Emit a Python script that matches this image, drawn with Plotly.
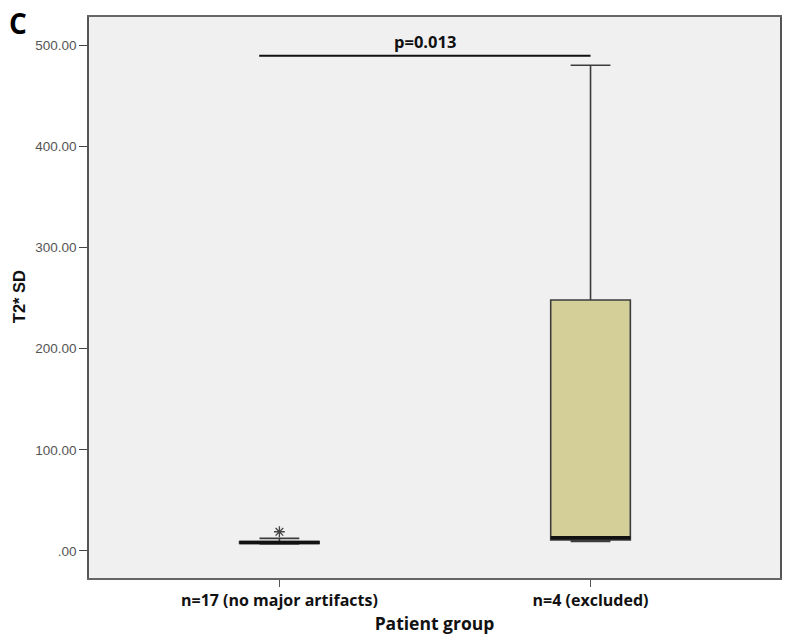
import plotly.graph_objects as go

# ---- data ----
groups = ["n=17 (no major artifacts)", "n=4 (excluded)"]
group_pos = [0, 1]
lower_fence = [7.0, 9.5]
q1 = [7.5, 11.0]
median = [8.5, 13.0]
q3 = [9.2, 248.0]
upper_fence = [12.5, 480.0]
outlier_group = [0]
outlier_value = [19.0]
y_ticks = [0, 100, 200, 300, 400, 500]
y_tick_labels = [".00", "100.00", "200.00", "300.00", "400.00", "500.00"]
p_text = "p=0.013"
p_line_y = 489.5
p_line_x = [-0.065, 1.0]

box_fill = "#D4CF98"
edge = "#3c3c3c"
box_w = 0.256

fig = go.Figure()

fills = ["#F0F0F0", box_fill]
for i in range(2):
    fig.add_trace(go.Box(
        x=[group_pos[i]], q1=[q1[i]], median=[median[i]], q3=[q3[i]],
        lowerfence=[lower_fence[i]], upperfence=[upper_fence[i]],
        width=box_w, whiskerwidth=0.5,
        fillcolor=fills[i], line=dict(color=edge, width=1.6),
        boxpoints=False, showlegend=False, hoverinfo="skip",
    ))

for i in range(2):
    fig.add_trace(go.Scatter(
        x=[group_pos[i] - box_w / 2, group_pos[i] + box_w / 2],
        y=[median[i], median[i]], mode="lines",
        line=dict(color="#111111", width=3.5), showlegend=False, hoverinfo="skip",
    ))

fig.add_trace(go.Scatter(
    x=outlier_group, y=outlier_value, mode="markers",
    marker=dict(symbol="asterisk-open", size=9, color="#444444", line=dict(width=1.3, color="#444444")),
    showlegend=False, hoverinfo="skip",
))

fig.add_trace(go.Scatter(
    x=p_line_x, y=[p_line_y, p_line_y], mode="lines",
    line=dict(color="#111111", width=2), showlegend=False, hoverinfo="skip",
))

fig.add_annotation(
    x=sum(p_line_x) / 2, y=p_line_y, xref="x", yref="y",
    text="<b>" + p_text + "</b>", showarrow=False, yanchor="bottom", yshift=1,
    font=dict(family="Open Sans", size=16.5, color="#111111"),
)

fig.add_annotation(
    x=(18 - 89) / 693, y=(578 - 23) / 561, xref="paper", yref="paper",
    xanchor="center", yanchor="middle",
    text="<b>C</b>", showarrow=False,
    font=dict(family="Open Sans", size=28, color="#000000"),
)

fig.add_annotation(
    x=(19 - 89) / 693, y=(578 - 297) / 561, xref="paper", yref="paper",
    xanchor="center", yanchor="middle",
    text="<b>T2* SD</b>", textangle=-90, showarrow=False,
    font=dict(family="Liberation Sans", size=16.5, color="#111111"),
)

fig.update_layout(
    width=787, height=640,
    margin=dict(l=89, r=5, t=17, b=62),
    paper_bgcolor="white", plot_bgcolor="#F0F0F0",
    xaxis=dict(
        range=[-0.612, 1.609], tickmode="array", tickvals=group_pos,
        ticktext=["<b>" + g + "</b>" for g in groups],
        tickfont=dict(family="Open Sans", size=16, color="#111111"),
        ticks="outside", ticklen=7, tickcolor="#555555", tickwidth=1.3,
        showline=True, linecolor="#666666", linewidth=1.5, mirror=True,
        showgrid=False, zeroline=False,
        title=dict(text="<b>Patient group</b>", font=dict(family="Open Sans", size=17.5, color="#111111"), standoff=5),
    ),
    yaxis=dict(
        range=[-26.7, 527.7], tickmode="array", tickvals=y_ticks, ticktext=y_tick_labels,
        tickfont=dict(family="Liberation Sans", size=13.5, color="#555555"),
        ticks="outside", ticklen=8, tickcolor="#444444", tickwidth=1.3,
        showline=True, linecolor="#555555", linewidth=1.5, mirror=True,
        showgrid=False, zeroline=False,
    ),
)

fig.write_html("out.html")
